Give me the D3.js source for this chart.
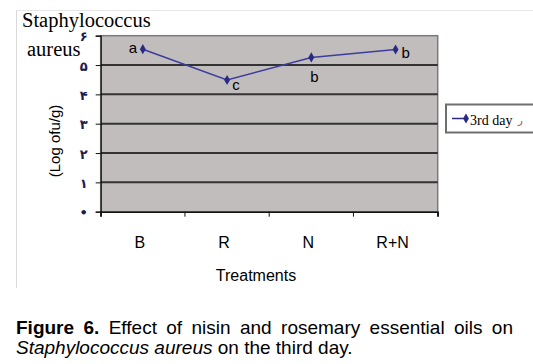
<!DOCTYPE html>
<html><head><meta charset="utf-8">
<script src="https://cdn.jsdelivr.net/npm/d3@7"></script>
<style>html,body{margin:0;padding:0;background:#fff;}svg{display:block;}</style>
</head><body>
<svg id="c" width="533" height="364"></svg>
<script>
const categories = ["B", "R", "N", "R+N"];
const values = [5.54, 4.49, 5.26, 5.53];
const letters = ["a", "c", "b", "b"];
const yTicks = [0, 1, 2, 3, 4, 5, 6];
const yTickLabels = ["•", "۱", "۲", "۳", "۴", "۵", "۶"];
const seriesName = "3rd day";

// layout (not data)
const letterOffsets = [[-10, 4], [9, 10], [3, 25], [10, 9]];

const svg = d3.select("#c");
const L = 100.7, R = 437.7, T = 35.7, B = 211.7;
const x = d3.scaleBand().domain(categories).range([L, R]).padding(0);
const y = d3.scaleLinear().domain([0, 6]).range([B, T]);

// outer frame
svg.append("line").attr("x1", 16.5).attr("x2", 16.5).attr("y1", 10).attr("y2", 288).attr("stroke", "#d9d9d9");
svg.append("line").attr("x1", 16).attr("x2", 533).attr("y1", 10.5).attr("y2", 10.5).attr("stroke", "#e6e6e6");

// plot background
svg.append("rect").attr("x", L).attr("y", T).attr("width", R - L).attr("height", B - T)
  .attr("fill", "#c1bdbd").attr("stroke", "#7a7a7a").attr("stroke-width", 1.5);

// gridlines
svg.append("g").selectAll("line").data(yTicks.filter(d => d > 0 && d < 6)).join("line")
  .attr("x1", L).attr("x2", R).attr("y1", d => y(d)).attr("y2", d => y(d))
  .attr("stroke", "#333", ).attr("stroke-width", 2);

// y axis
const yAxis = d3.axisLeft(y).tickValues(yTicks).tickSize(5).tickFormat((d, i) => yTickLabels[i]);
const gy = svg.append("g").attr("transform", `translate(${L},0)`).call(yAxis);
gy.select(".domain").attr("stroke", "#111").attr("stroke-width", 1.2);
gy.selectAll(".tick line").attr("stroke", "#111");
gy.selectAll(".tick text").attr("x", -17).attr("dy", "0.4em").attr("text-anchor", "middle")
  .attr("font-family", "DejaVu Sans, sans-serif").attr("font-size", 13).attr("font-weight", "bold").attr("fill", "#1c1c50");

// x axis
const xAxis = d3.axisBottom(x).tickSize(5).tickFormat(() => "");
const gx = svg.append("g").attr("transform", `translate(0,${B})`).call(xAxis);
gx.selectAll(".tick").remove();
gx.select(".domain").attr("stroke", "#111").attr("stroke-width", 1.5);
const bounds = categories.map(c => x(c)).concat([x(categories[categories.length - 1]) + x.bandwidth()]);
gx.selectAll(".bt").data(bounds).join("line").attr("class", "bt")
  .attr("x1", d => d).attr("x2", d => d).attr("y1", 0).attr("y2", 5).attr("stroke", "#111");
gx.selectAll(".cl").data(categories).join("text").attr("class", "cl")
  .attr("x", d => x(d) + x.bandwidth() / 2 - 3).attr("y", 36)
  .attr("text-anchor", "middle").attr("font-family", "Liberation Sans, Arial, sans-serif")
  .attr("font-size", 16).attr("fill", "#000").text(d => d);

// axis titles
svg.append("text").attr("x", 256).attr("y", 281).attr("text-anchor", "middle")
  .attr("font-family", "Liberation Sans, Arial, sans-serif").attr("font-size", 16).text("Treatments");
svg.append("text").attr("transform", "translate(60,141) rotate(-90)").attr("text-anchor", "middle")
  .attr("font-family", "Liberation Sans, Arial, sans-serif").attr("font-size", 15).text("(Log ofu/g)");

// title (white bg)
svg.append("rect").attr("x", 18).attr("y", 11).attr("width", 130).attr("height", 19).attr("fill", "#fff");
svg.append("text").attr("x", 22).attr("y", 27).attr("font-family", "Liberation Serif, Times New Roman, serif")
  .attr("font-size", 20.5).attr("fill", "#000").text("Staphylococcus");
svg.append("text").attr("x", 27).attr("y", 56).attr("font-family", "Liberation Serif, Times New Roman, serif")
  .attr("font-size", 20.5).attr("fill", "#000").text("aureus");

// line
const line = d3.line().x((d, i) => x(categories[i]) + x.bandwidth() / 2).y(d => y(d));
svg.append("path").datum(values).attr("d", line).attr("fill", "none").attr("stroke", "#3d3d9e").attr("stroke-width", 1.5);
const sym = d3.symbol().type(d3.symbolDiamond).size(30);
svg.append("g").selectAll("path").data(values).join("path")
  .attr("transform", (d, i) => `translate(${x(categories[i]) + x.bandwidth() / 2},${y(d)})`)
  .attr("d", sym).attr("fill", "#2a2a85");

// letters
svg.append("g").selectAll("text").data(values).join("text")
  .attr("x", (d, i) => x(categories[i]) + x.bandwidth() / 2 + letterOffsets[i][0])
  .attr("y", (d, i) => y(d) + letterOffsets[i][1])
  .attr("text-anchor", "middle").attr("font-family", "Liberation Sans, Arial, sans-serif")
  .attr("font-size", 15).attr("fill", "#000").text((d, i) => letters[i]);

// legend
svg.append("rect").attr("x", 446).attr("y", 104.5).attr("width", 100).attr("height", 28)
  .attr("fill", "#fff").attr("stroke", "#6e6e6e").attr("stroke-width", 2);
svg.append("line").attr("x1", 452).attr("x2", 467).attr("y1", 118.5).attr("y2", 118.5).attr("stroke", "#2a2a85").attr("stroke-width", 1.5);
svg.append("path").attr("transform", "translate(466,118.5)").attr("d", sym).attr("fill", "#2a2a85");
svg.append("text").attr("x", 470).attr("y", 125).attr("font-family", "Liberation Serif, Times New Roman, serif")
  .attr("font-size", 14).attr("fill", "#000").text(seriesName);
svg.append("text").attr("x", 518).attr("y", 124).attr("font-family", "DejaVu Sans, sans-serif")
  .attr("font-size", 10).attr("fill", "#9a4a2a").text("ر");

// caption
const cap = svg.append("text").attr("x", 16).attr("y", 334)
  .attr("font-family", "Liberation Sans, Arial, sans-serif").attr("font-size", 19).attr("fill", "#000");
cap.append("tspan").attr("font-weight", "bold").text("Figure 6.");
cap.append("tspan").text(" Effect of nisin and rosemary essential oils on");
const natural = cap.node().getComputedTextLength();
const gaps = 9;
cap.attr("word-spacing", Math.max(0, (513 - 16 - natural) / gaps));
const cap2 = svg.append("text").attr("x", 16).attr("y", 354)
  .attr("font-family", "Liberation Sans, Arial, sans-serif").attr("font-size", 19).attr("fill", "#000");
cap2.append("tspan").attr("font-style", "italic").text("Staphylococcus aureus");
cap2.append("tspan").text(" on the third day.");
</script>
</body></html>
